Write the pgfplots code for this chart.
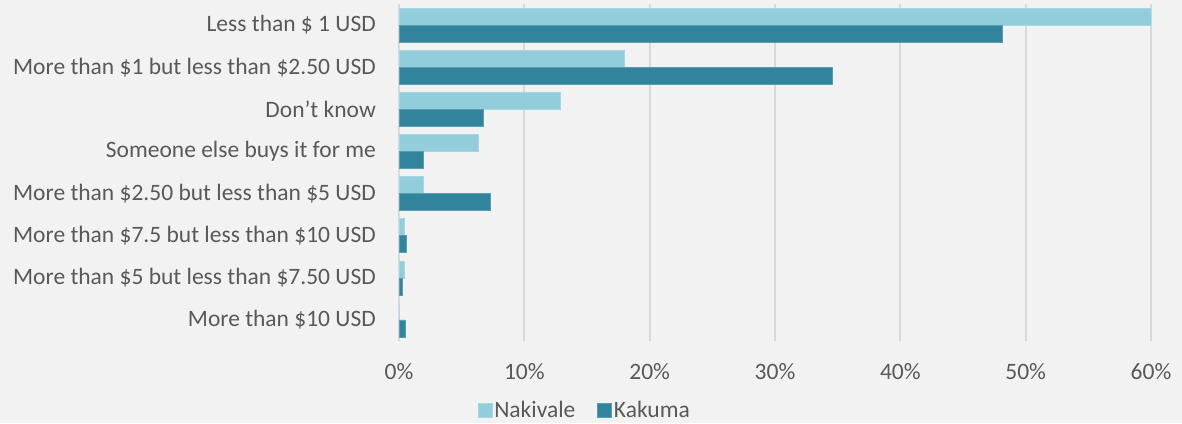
\documentclass[border=0pt]{standalone}
\usepackage{pgfplots}
\pgfplotsset{compat=1.18}
\usepackage{fontspec}
\setmainfont{Carlito}
\definecolor{bg}{HTML}{F2F2F2}
\definecolor{nak}{HTML}{92CDDC}
\definecolor{kak}{HTML}{31849B}
\definecolor{txt}{HTML}{595959}
\definecolor{grd}{HTML}{D9D9D9}
\begin{document}
\begin{tikzpicture}
\fill[bg] (0,0) rectangle (1182pt,-423pt);
\begin{axis}[
  at={(399pt,-341pt)}, anchor=south west,
  scale only axis, width=752pt, height=337pt,
  xbar=0pt, bar width=17pt,
  y dir=reverse,
  xmin=0, xmax=60, ymin=-0.5, ymax=7.5,
  xtick={0,10,...,60},
  xticklabels={0\%,10\%,20\%,30\%,40\%,50\%,60\%},
  ytick={0,...,7},
  yticklabels={Less than \$ 1 USD, More than \$1 but less than \$2.50 USD, Don{\char"0027}t know, Someone else buys it for me, More than \$2.50 but less than \$5 USD, More than \$7.5 but less than \$10 USD, More than \$5 but less than \$7.50 USD, More than \$10 USD},
  major tick length=0pt,
  axis line style={draw=none},
  xmajorgrids, major grid style={grd, line width=2pt},
  tick label style={font=\fontsize{23.5pt}{28pt}\selectfont, text=txt},
  xticklabel style={inner sep=0pt, anchor=north, yshift=-22pt},
  yticklabel style={inner sep=0pt, anchor=east, xshift=-23pt},
  /pgf/number format/assume math mode=true,
  legend style={at={(0.247,-0.205)}, anchor=center, draw=none, fill=none,
    legend columns=2, font=\fontsize{23.5pt}{28pt}\selectfont, text=txt,
    /tikz/every even column/.append style={column sep=20pt},
    /tikz/every odd column/.append style={column sep=0pt}},
  legend image code/.code={\fill[#1] (0pt,-7pt) rectangle (14pt,7pt);},
]
\addplot[fill=nak, draw=nak!80!white, line width=0.6pt, bar shift=8.5pt] coordinates {
  (60,0) (18.0,1) (12.9,2) (6.3,3) (1.97,4) (0.4,5) (0.4,6) (0,7)};
\addlegendentry{Nakivale}
\addplot[fill=kak, draw=kak!80!white, line width=0.6pt, bar shift=-8.5pt] coordinates {
  (48.1,0) (34.6,1) (6.76,2) (1.9,3) (7.3,4) (0.55,5) (0.25,6) (0.5,7)};
\addlegendentry{Kakuma}
\end{axis}
\end{tikzpicture}
\end{document}
